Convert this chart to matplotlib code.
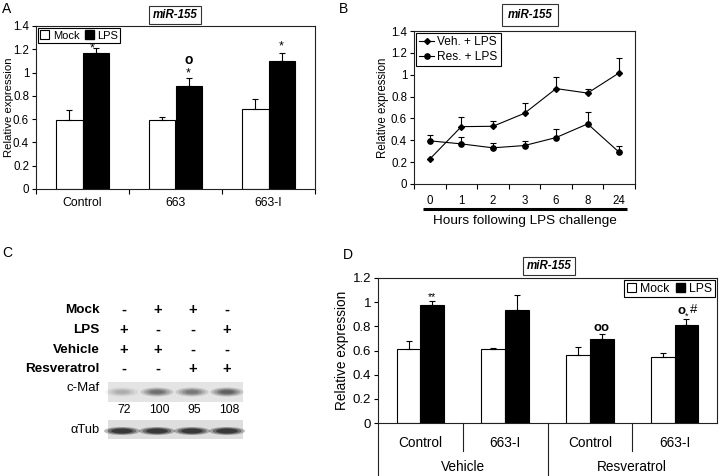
import matplotlib
matplotlib.use("Agg")
import matplotlib.pyplot as plt
from matplotlib.patches import Rectangle, Ellipse
from matplotlib.lines import Line2D
from matplotlib.transforms import blended_transform_factory
import numpy as np

plt.rcParams['font.family'] = ['Liberation Sans', 'DejaVu Sans']

# ---- data ----
# panel A
a_cats = ["Control", "663", "663-I"]
a_mock = [0.59, 0.59, 0.685]
a_mock_err = [0.085, 0.03, 0.085]
a_lps = [1.17, 0.885, 1.10]
a_lps_err = [0.04, 0.065, 0.065]

# panel B
b_hours = ["0", "1", "2", "3", "6", "8", "24"]
b_veh = [0.228, 0.525, 0.528, 0.647, 0.873, 0.832, 1.017]
b_veh_err = [0.0, 0.085, 0.048, 0.097, 0.105, 0.033, 0.14]
b_res = [0.395, 0.367, 0.331, 0.352, 0.425, 0.55, 0.29]
b_res_err = [0.054, 0.067, 0.043, 0.046, 0.082, 0.106, 0.059]

# panel C
c_rows = ["Mock", "LPS", "Vehicle", "Resveratrol"]
c_signs = [["-", "+", "+", "-"],
           ["+", "-", "-", "+"],
           ["+", "+", "-", "-"],
           ["-", "-", "+", "+"]]
c_maf = [72, 100, 95, 108]

# panel D
d_cats = ["Control", "663-I", "Control", "663-I"]
d_groups = ["Vehicle", "Resveratrol"]
d_mock = [0.611, 0.614, 0.561, 0.545]
d_mock_err = [0.07, 0.006, 0.07, 0.033]
d_lps = [0.976, 0.932, 0.694, 0.807]
d_lps_err = [0.036, 0.124, 0.041, 0.056]

W, H = 720, 476
fig = plt.figure(figsize=(7.2, 4.76), dpi=100)


def rect(l, t, r, b):
    return [l / W, 1 - b / H, (r - l) / W, (b - t) / H]


def style_axes(ax, fs):
    for s in ax.spines.values():
        s.set_linewidth(0.8)
        s.set_color("#222222")
    ax.tick_params(axis="y", direction="out", length=3, width=0.8, labelsize=fs, pad=2)


def bar_panel(ax, mock, mock_err, lps, lps_err, ymax, w=0.28):
    x = np.arange(len(mock))
    ax.bar(x - w / 2, mock, w, color="white", edgecolor="black", linewidth=0.8)
    ax.bar(x + w / 2, lps, w, color="black", edgecolor="black", linewidth=0.8)
    ax.errorbar(x - w / 2, mock, yerr=[np.zeros(len(mock)), mock_err], fmt="none",
                ecolor="black", elinewidth=0.8, capsize=2, capthick=0.8)
    ax.errorbar(x + w / 2, lps, yerr=[np.zeros(len(lps)), lps_err], fmt="none",
                ecolor="black", elinewidth=0.8, capsize=2, capthick=0.8)
    ax.set_xlim(-0.5, len(mock) - 0.5)
    ax.set_ylim(0, ymax)
    return x


# overlay for free text and blot
ov = fig.add_axes([0, 0, 1, 1])
ov.set_xlim(0, W)
ov.set_ylim(H, 0)
ov.axis("off")

# ---- panel A ----
axA = fig.add_axes(rect(36, 26, 315, 189))
style_axes(axA, 8.3)
x = bar_panel(axA, a_mock, a_mock_err, a_lps, a_lps_err, 1.4)
axA.set_yticks(np.arange(0, 1.41, 0.2))
axA.set_yticklabels(["0", "0.2", "0.4", "0.6", "0.8", "1", "1.2", "1.4"])
axA.set_xticks(x)
axA.set_xticklabels(a_cats, fontsize=8.8)
axA.set_xticks(np.arange(-0.5, len(x), 1), minor=True)
axA.tick_params(axis="x", which="major", length=0, pad=6)
axA.tick_params(axis="x", which="minor", length=3.5, width=0.8)
axA.set_ylabel("Relative expression", fontsize=8.2)
axA.yaxis.set_label_coords(-0.08, 0.5)
axA.legend(handles=[Rectangle((0, 0), 1, 1, fc="white", ec="black", lw=0.8),
                    Rectangle((0, 0), 1, 1, fc="black", ec="black")],
           labels=["Mock", "LPS"], loc="upper left", ncol=2, fontsize=8,
           handlelength=0.8, handleheight=0.8, handletextpad=0.3, columnspacing=0.5,
           borderpad=0.2, borderaxespad=0.2, fancybox=False, framealpha=1,
           edgecolor="black").get_frame().set_linewidth(0.8)
axA.text(0.1, 1.185, "*", ha="center", fontsize=9)
axA.text(1.14, 1.07, "o", ha="center", fontsize=10, fontweight="bold")
axA.text(1.14, 0.97, "*", ha="center", fontsize=9)
axA.text(2.14, 1.2, "*", ha="center", fontsize=9)

# ---- panel B ----
axB = fig.add_axes(rect(414, 31, 635, 184))
style_axes(axB, 8.3)
xb = np.arange(len(b_hours))
axB.errorbar(xb, b_veh, yerr=[np.zeros(len(xb)), b_veh_err], color="black",
             marker="D", markersize=3, lw=0.8, elinewidth=0.8, capsize=2, capthick=0.8)
axB.errorbar(xb, b_res, yerr=[np.zeros(len(xb)), b_res_err], color="black",
             marker="o", markersize=3.8, lw=0.8, elinewidth=0.8, capsize=2, capthick=0.8)
axB.set_xlim(-0.5, len(xb) - 0.5)
axB.set_ylim(0, 1.4)
axB.set_yticks(np.arange(0, 1.41, 0.2))
axB.set_yticklabels(["0", "0.2", "0.4", "0.6", "0.8", "1", "1.2", "1.4"])
axB.set_xticks(xb)
axB.set_xticklabels(b_hours, fontsize=8.3)
axB.set_xticks(np.arange(-0.5, len(xb), 1), minor=True)
axB.tick_params(axis="x", which="major", length=0, pad=8)
axB.tick_params(axis="x", which="minor", length=3.5, width=0.8)
axB.set_ylabel("Relative expression", fontsize=8.3)
axB.yaxis.set_label_coords(-0.113, 0.5)
legB = axB.legend(handles=[Line2D([], [], color="black", marker="D", markersize=3, lw=0.8),
                           Line2D([], [], color="black", marker="o", markersize=3.8, lw=0.8)],
                  labels=["Veh. + LPS", "Res. + LPS"], loc="upper left", fontsize=8.6,
                  handlelength=1.2, handletextpad=0.3, labelspacing=0.25, borderpad=0.25,
                  borderaxespad=0.2, fancybox=False, framealpha=1, edgecolor="black")
legB.get_frame().set_linewidth(0.8)
ov.plot([423, 627], [209, 209], color="black", lw=2.2, solid_capstyle="butt")
ov.text(525, 221, "Hours following LPS challenge", ha="center", va="center", fontsize=9.7)

# ---- panel D ----
axD = fig.add_axes(rect(378, 278, 717, 423))
style_axes(axD, 9.5)
xd = bar_panel(axD, d_mock, d_mock_err, d_lps, d_lps_err, 1.2)
axD.set_yticks(np.arange(0, 1.21, 0.2))
axD.set_yticklabels(["0", "0.2", "0.4", "0.6", "0.8", "1", "1.2"])
axD.set_xticks([])
axD.set_ylabel("Relative expression", fontsize=9.8)
axD.yaxis.set_label_coords(-0.0855, 0.5)
legD = axD.legend(handles=[Rectangle((0, 0), 1, 1, fc="white", ec="black", lw=0.8),
                           Rectangle((0, 0), 1, 1, fc="black", ec="black")],
                  labels=["Mock", "LPS"], loc="upper right", ncol=2, fontsize=8.8,
                  handlelength=0.8, handleheight=0.8, handletextpad=0.3, columnspacing=0.5,
                  borderpad=0.2, borderaxespad=0.2, fancybox=False, framealpha=1,
                  edgecolor="black")
legD.get_frame().set_linewidth(0.8)
trD = blended_transform_factory(axD.transData, axD.transAxes)
for i, c in enumerate(d_cats):
    axD.text(i, -0.135, c, transform=trD, ha="center", va="center", fontsize=9.8)
for g, name in enumerate(d_groups):
    axD.text(2 * g + 0.5, -0.305, name, transform=trD, ha="center", va="center", fontsize=9.8)
for xs, yb in [(-0.5, -0.37), (0.5, -0.19), (1.5, -0.37), (2.5, -0.19)]:
    axD.add_line(Line2D([xs, xs], [0, yb], transform=trD, color="#222222", lw=0.8,
                        clip_on=False))
axD.text(0.14, 1.02, "**", ha="center", fontsize=7.5)
axD.text(2.14, 0.76, "oo", ha="center", fontsize=9.5, fontweight="bold")
axD.text(3.08, 0.9, "o", ha="center", fontsize=9.5, fontweight="bold")
axD.text(3.14, 0.865, "*", ha="center", fontsize=6.5)
axD.text(3.22, 0.91, "#", ha="center", fontsize=9.5)

# ---- title boxes and panel letters ----
for (cx, cy, pad) in [(175, 15, 0.3), (530, 15, 0.45), (549, 266, 0.3)]:
    ov.text(cx, cy, "miR-155", ha="center", va="center", fontsize=8.3,
            fontweight="bold", style="italic",
            bbox=dict(boxstyle="square,pad=%s" % pad, fc="white", ec="#333333", lw=0.8))
for letter, (lx, ly) in zip("ABCD", [(2, 9), (339, 9), (2, 253), (343, 255)]):
    ov.text(lx, ly, letter, ha="left", va="center", fontsize=10)

# ---- panel C: blot ----
lane_x = [122, 157, 192, 227]
row_y = [310, 330, 350, 369]
for name, y, signs in zip(c_rows, row_y, c_signs):
    ov.text(100, y, name, ha="right", va="center", fontsize=9.7, fontweight="bold")
    for lx, s in zip([124, 158, 193, 227], signs):
        ov.text(lx, y, s, ha="center", va="center", fontsize=10.5, fontweight="bold")

ov.add_patch(Rectangle((108, 382), 135, 20, fc="#e4e4e4", ec="none"))
ov.add_patch(Rectangle((108, 420), 135, 19, fc="#dedede", ec="none"))
ov.text(100, 388, "c-Maf", ha="right", va="center", fontsize=9.5)
ov.text(100, 430, "αTub", ha="right", va="center", fontsize=9.3)
for lx, v in zip(lane_x, c_maf):
    strength = (v - 55) / 55.0
    for s, a in [(1.0, 0.18), (0.8, 0.22), (0.6, 0.28), (0.4, 0.3)]:
        ov.add_patch(Ellipse((lx, 392), 33 * s, 9 * s, fc="#202020", ec="none",
                             alpha=min(a * strength, 0.6)))
    ov.text(lx + 2, 410, str(v), ha="center", va="center", fontsize=8.8)
for lx in lane_x:
    for s, a in [(1.0, 0.3), (0.8, 0.4), (0.6, 0.6)]:
        ov.add_patch(Ellipse((lx, 431), 36 * s, 8 * s, fc="#181818", ec="none", alpha=a))

fig.savefig("out.png", dpi=100)
